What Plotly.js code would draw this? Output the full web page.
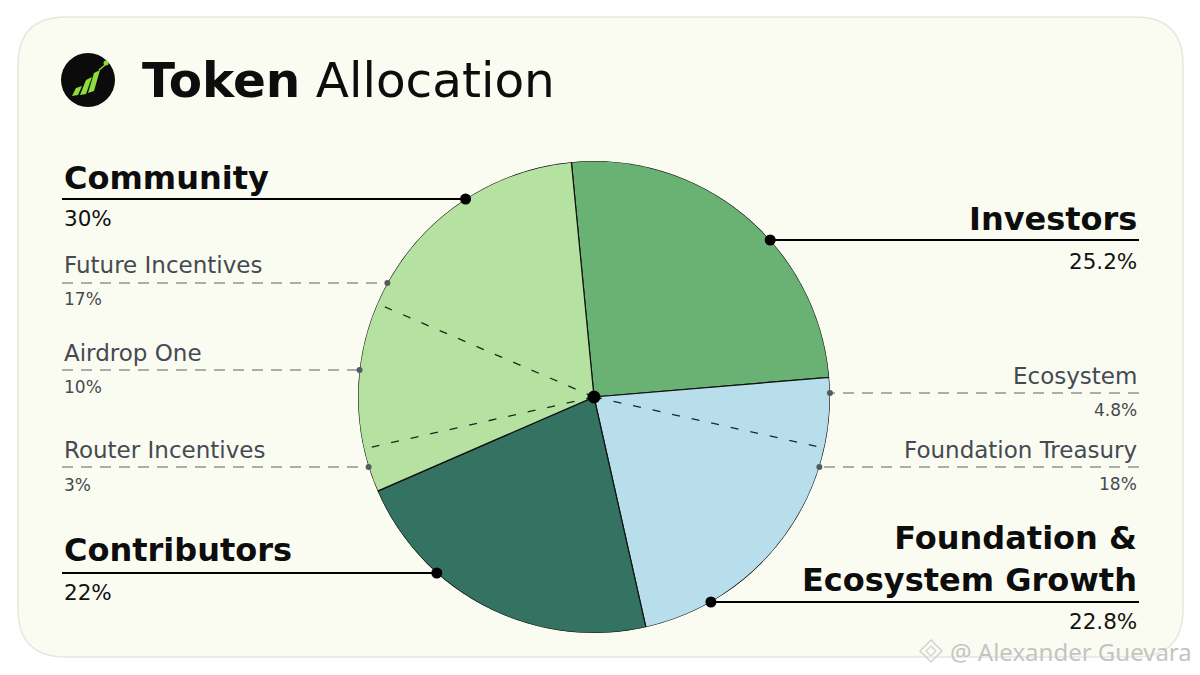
<!DOCTYPE html>
<html><head><meta charset="utf-8">
<script src="https://cdn.plot.ly/plotly-3.0.1.min.js"></script>
<style>html,body{margin:0;padding:0;background:#fff;}#chart{width:1200px;height:675px;}</style>
</head><body><div id="chart"></div>
<script>
// ---------------- DATA ----------------
const categories = ['Investors', 'Foundation &<br>Ecosystem Growth', 'Contributors', 'Community'];
const shares = [25.2, 22.8, 22, 30];
const foundationSubLabels = ['Ecosystem', 'Foundation Treasury'];
const foundationSubShares = [4.8, 18];
const communitySubLabels = ['Router Incentives', 'Airdrop One', 'Future Incentives'];
const communitySubShares = [3, 10, 17];

// ---------------- STYLE / GEOMETRY ----------------
const W = 1200, H = 675;
const CX = 594, CY = 397, R = 236;
const sliceColors = ['#6ab274', '#b8deec', '#347261', '#b5e2a0'];
const FONT = '"DejaVu Sans", "Noto Sans", sans-serif';
const DEG = 3.6;

const cum = [0];
shares.forEach((s, i) => cum.push(cum[i] + s));
const thetaMid = shares.map((s, i) => (cum[i] + s / 2) * DEG);
const widths = shares.map(s => s * DEG);

function innerBoundaries(parentIdx, subs) {
  const b = []; let acc = cum[parentIdx];
  for (let k = 0; k < subs.length - 1; k++) { acc += subs[k]; b.push(acc * DEG); }
  return b;
}
const bounds = innerBoundaries(1, foundationSubShares).concat(innerBoundaries(3, communitySubShares));
const dashR = [], dashT = [];
bounds.forEach(b => { dashR.push(0, 0.965, null); dashT.push(b, b, null); });

const traces = [
  { type: 'scatter', x: [-50], y: [-50], mode: 'markers', marker: { opacity: 0 }, hoverinfo: 'skip', showlegend: false },
  { type: 'barpolar', r: shares.map(() => 1), theta: thetaMid, width: widths,
    marker: { color: sliceColors, line: { color: '#111', width: 1.2 } }, hoverinfo: 'skip', showlegend: false },
  { type: 'scatterpolar', r: dashR, theta: dashT, mode: 'lines', connectgaps: false,
    line: { color: '#1f261f', width: 1.3, dash: '8px,12px' }, hoverinfo: 'skip', showlegend: false },
  { type: 'scatterpolar', r: [0], theta: [0], mode: 'markers', marker: { color: '#000', size: 13 }, hoverinfo: 'skip', showlegend: false }
];

// ---------------- LABELS / LEADERS ----------------
const shapes = [];
const annotations = [];
const cardX0 = 18, cardX1 = 1183, cardY0 = 17, cardY1 = 657, cr = 48;
shapes.push({ type: 'path', xref: 'x', yref: 'y', layer: 'below',
  path: `M${cardX0 + cr},${cardY0} H${cardX1 - cr} Q${cardX1},${cardY0} ${cardX1},${cardY0 + cr} V${cardY1 - cr} Q${cardX1},${cardY1} ${cardX1 - cr},${cardY1} H${cardX0 + cr} Q${cardX0},${cardY1} ${cardX0},${cardY1 - cr} V${cardY0 + cr} Q${cardX0},${cardY0} ${cardX0 + cr},${cardY0} Z`,
  fillcolor: '#fafcf1', line: { color: '#e6e8df', width: 1.5 } });

function edgeX(y, side) { const d = Math.sqrt(R * R - (y - CY) * (y - CY)); return side === 'left' ? CX - d : CX + d; }

function mainLabel(idx, side, textY, lineY, pctY) {
  const xText = side === 'left' ? 62 : 1139;
  const dx = edgeX(lineY, side);
  shapes.push({ type: 'line', xref: 'x', yref: 'y', layer: 'above', x0: xText, x1: dx, y0: lineY, y1: lineY, line: { color: '#000', width: 2.2 } });
  shapes.push({ type: 'circle', xref: 'x', yref: 'y', layer: 'above', x0: dx - 5.5, x1: dx + 5.5, y0: lineY - 5.5, y1: lineY + 5.5, fillcolor: '#000', line: { width: 0 } });
  annotations.push({ x: xText, y: textY, xref: 'x', yref: 'y', text: '<b>' + categories[idx] + '</b>', showarrow: false,
    xanchor: side, yanchor: 'middle', align: side, font: { family: FONT, size: 32, color: '#0d0d0d' } });
  annotations.push({ x: xText, y: pctY, xref: 'x', yref: 'y', text: shares[idx] + '%', showarrow: false,
    xanchor: side, yanchor: 'middle', font: { family: FONT, size: 21.5, color: '#111' } });
}
function subLabel(label, val, side, textY, lineY, pctY) {
  const xText = side === 'left' ? 62 : 1139;
  const dx = edgeX(lineY, side);
  shapes.push({ type: 'line', xref: 'x', yref: 'y', layer: 'above', x0: xText, x1: dx, y0: lineY, y1: lineY, line: { color: '#8e9295', width: 1.6, dash: '11px,8px' } });
  shapes.push({ type: 'circle', xref: 'x', yref: 'y', layer: 'above', x0: dx - 3, x1: dx + 3, y0: lineY - 3, y1: lineY + 3, fillcolor: '#545a60', line: { width: 0 } });
  annotations.push({ x: xText, y: textY, xref: 'x', yref: 'y', text: label, showarrow: false,
    xanchor: side, yanchor: 'middle', font: { family: FONT, size: 23, color: '#454a52' } });
  annotations.push({ x: xText, y: pctY, xref: 'x', yref: 'y', text: val + '%', showarrow: false,
    xanchor: side, yanchor: 'middle', font: { family: FONT, size: 17, color: '#454a52' } });
}

mainLabel(3, 'left', 178, 199, 218);
mainLabel(2, 'left', 550, 573, 592);
mainLabel(0, 'right', 219, 240, 261);
mainLabel(1, 'right', 559, 602, 621);
subLabel(communitySubLabels[2], communitySubShares[2], 'left', 265, 283, 299);
subLabel(communitySubLabels[1], communitySubShares[1], 'left', 353, 370, 387);
subLabel(communitySubLabels[0], communitySubShares[0], 'left', 450, 467, 485);
subLabel(foundationSubLabels[0], foundationSubShares[0], 'right', 376, 393, 410);
subLabel(foundationSubLabels[1], foundationSubShares[1], 'right', 450, 467, 484);

// title + logo
shapes.push({ type: 'circle', xref: 'x', yref: 'y', layer: 'above', x0: 61, x1: 115, y0: 53, y1: 107, fillcolor: '#0b0b0b', line: { width: 0 } });
const lime = '#8fdd3a';
['M72,96 L78,95 L82,86 L76,88 Z', 'M80,95 L86,94 L92,77 L86,80 Z', 'M88,93 L94,91 L100,70 L94,73 Z'].forEach(p =>
  shapes.push({ type: 'path', xref: 'x', yref: 'y', layer: 'above', path: p, fillcolor: lime, line: { width: 0 } }));
shapes.push({ type: 'line', xref: 'x', yref: 'y', layer: 'above', x0: 99, y0: 70, x1: 105, y1: 65, line: { color: lime, width: 1.5 } });
shapes.push({ type: 'circle', xref: 'x', yref: 'y', layer: 'above', x0: 103.5, x1: 108.5, y0: 60.5, y1: 65.5, fillcolor: lime, line: { width: 0 } });
annotations.push({ x: 140, y: 80, xref: 'x', yref: 'y', text: '<b>Token</b> Allocation', showarrow: false,
  xanchor: 'left', yanchor: 'middle', font: { family: FONT, size: 48.5, color: '#0d0d0d' } });

// watermark
shapes.push({ type: 'path', xref: 'x', yref: 'y', layer: 'above', path: 'M931,640 L942,651 L931,662 L920,651 Z', fillcolor: 'rgba(0,0,0,0)', line: { color: '#d2d2d2', width: 1.5 } });
shapes.push({ type: 'path', xref: 'x', yref: 'y', layer: 'above', path: 'M931,646 L936,651 L931,656 L926,651 Z', fillcolor: 'rgba(0,0,0,0)', line: { color: '#d2d2d2', width: 1.2 } });
annotations.push({ x: 1194, y: 651, xref: 'x', yref: 'y', text: '@ Alexander Guevara', showarrow: false,
  xanchor: 'right', yanchor: 'middle', font: { family: '"Noto Sans", sans-serif', size: 24, color: '#c4c4c4' } });

const layout = {
  width: W, height: H, margin: { l: 0, r: 0, t: 0, b: 0, pad: 0 },
  paper_bgcolor: '#ffffff', plot_bgcolor: 'rgba(0,0,0,0)', showlegend: false,
  xaxis: { range: [0, W], visible: false, fixedrange: true, domain: [0, 1] },
  yaxis: { range: [H, 0], visible: false, fixedrange: true, domain: [0, 1] },
  polar: {
    domain: { x: [(CX - R) / W, (CX + R) / W], y: [(H - CY - R) / H, (H - CY + R) / H] },
    bgcolor: 'rgba(0,0,0,0)', bargap: 0, hole: 0,
    radialaxis: { visible: false, range: [0, 1], showgrid: false, showline: false, showticklabels: false },
    angularaxis: { visible: false, rotation: 95.5, direction: 'clockwise', showgrid: false, showline: false, showticklabels: false, ticks: '' }
  },
  shapes: shapes, annotations: annotations
};
Plotly.newPlot('chart', traces, layout, { staticPlot: true, displayModeBar: false });
</script></body></html>
